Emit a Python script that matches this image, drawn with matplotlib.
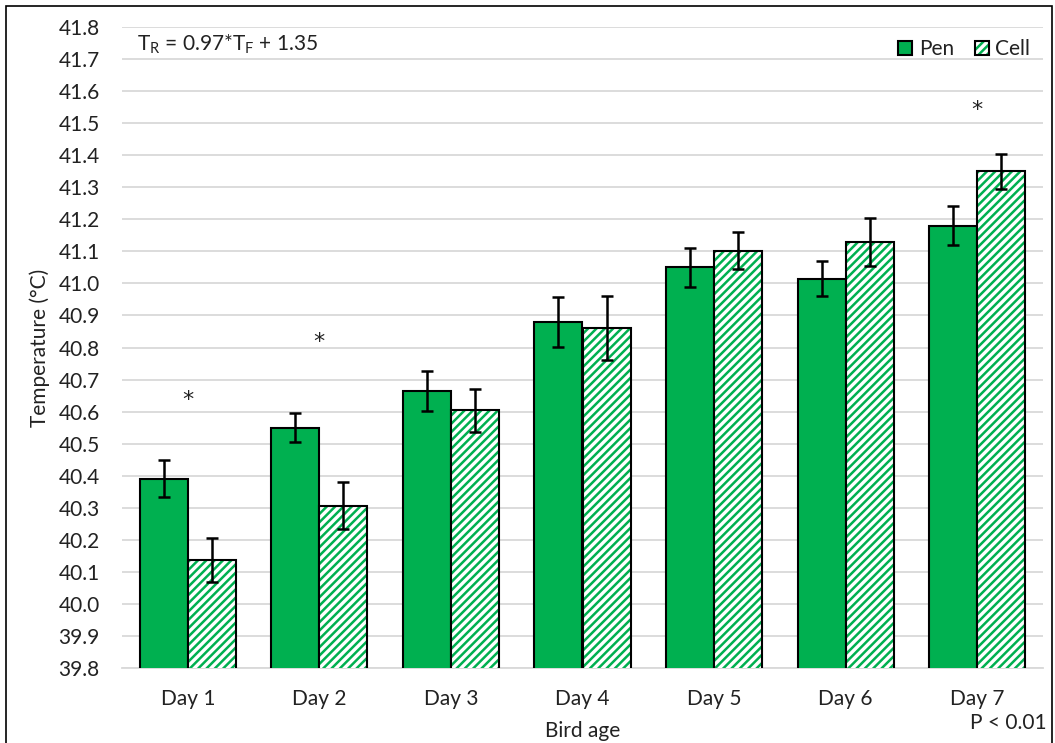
import matplotlib
matplotlib.use("Agg")
import matplotlib.pyplot as plt
from matplotlib.patches import Patch, Rectangle
from matplotlib.legend_handler import HandlerTuple
import numpy as np

categories = ["Day 1", "Day 2", "Day 3", "Day 4", "Day 5", "Day 6", "Day 7"]
pen = [40.39, 40.55, 40.665, 40.88, 41.05, 41.015, 41.18]
pen_err = [0.058, 0.046, 0.063, 0.078, 0.062, 0.054, 0.060]
cell = [40.137, 40.307, 40.604, 40.862, 41.102, 41.13, 41.35]
cell_err = [0.07, 0.073, 0.068, 0.10, 0.057, 0.075, 0.055]
star_days = [0, 1, 6]
star_vals = [40.655, 40.836, 41.56]
yticks = [round(39.8 + 0.1 * i, 1) for i in range(21)]

GREEN = "#00B050"
FONT = "Lato"
FS = 15
plt.rcParams["font.family"] = [FONT, "DejaVu Sans"]
plt.rcParams["hatch.linewidth"] = 1.8
plt.rcParams["mathtext.fontset"] = "custom"
plt.rcParams["mathtext.rm"] = FONT

fig = plt.figure(figsize=(10.55, 7.43), dpi=100)
ax = fig.add_axes([122 / 1055, 1 - 668 / 743, 921 / 1055, 641 / 743])

x = np.arange(len(categories))
w = 0.365
ax.bar(x - w / 2, pen, w, color=GREEN, edgecolor="black", linewidth=1.5, zorder=3)
ax.bar(x + w / 2, cell, w, color="white", edgecolor=GREEN, hatch="////", linewidth=0, zorder=3)
ax.bar(x + w / 2, cell, w, fill=False, edgecolor="black", linewidth=1.5, zorder=4)
ax.errorbar(x - w / 2, pen, yerr=pen_err, fmt="none", ecolor="black", elinewidth=1.8,
            capsize=4, capthick=1.8, zorder=5)
ax.errorbar(x + w / 2, cell, yerr=cell_err, fmt="none", ecolor="black", elinewidth=1.8,
            capsize=4, capthick=1.8, zorder=5)
for d, v in zip(star_days, star_vals):
    ax.annotate("*", (x[d], v), xytext=(0, -9), textcoords="offset points",
                ha="center", va="baseline", fontsize=16, family="DejaVu Sans",
                color="#222222", zorder=6)

ax.set_ylim(39.8, 41.8)
ax.set_xlim(-0.5, len(categories) - 0.5)
ax.set_yticks(yticks)
ax.set_yticklabels([f"{t:.1f}" for t in yticks])
ax.set_xticks(x)
ax.set_xticklabels(categories)
ax.tick_params(axis="both", length=0, labelsize=FS, colors="#222222")
ax.tick_params(axis="y", pad=16)
ax.tick_params(axis="x", pad=15)
ax.grid(axis="y", color="#D9D9D9", linewidth=1.3, zorder=0)
ax.set_axisbelow(True)
for s in ["left", "right", "top"]:
    ax.spines[s].set_visible(False)
ax.spines["bottom"].set_color("#D9D9D9")
ax.spines["bottom"].set_linewidth(1.3)

ax.set_ylabel("Temperature (°C)", fontsize=FS, labelpad=6, color="#222222")
ax.set_xlabel("Bird age", fontsize=FS, labelpad=9, color="#222222")

ax.text(0.016, 0.973, r"T$_\mathregular{R}$ = 0.97*T$_\mathregular{F}$ + 1.35",
        transform=ax.transAxes, ha="left", va="center", fontsize=FS, color="#222222")
fig.text(1047 / 1055, 1 - 723 / 743, "P < 0.01", ha="right", va="center", fontsize=FS,
         color="#222222")

h_pen = Patch(facecolor=GREEN, edgecolor="black", linewidth=1.5)
h_cell_fill = Patch(facecolor="white", edgecolor=GREEN, hatch="////", linewidth=0)
h_cell_edge = Patch(fill=False, edgecolor="black", linewidth=1.5)
ax.legend([h_pen, (h_cell_fill, h_cell_edge)], ["Pen", "Cell"],
          handler_map={tuple: HandlerTuple(ndivide=1)},
          loc="upper right", bbox_to_anchor=(1.0, 1.0), ncol=2, frameon=False,
          fontsize=FS, handlelength=0.7, handleheight=0.7, handletextpad=0.3,
          columnspacing=1.0, borderaxespad=0.2, labelcolor="#222222")

fig.add_artist(Rectangle((6 / 1055, -0.01), 1046 / 1055, 1 - 6 / 743 + 0.01,
                         transform=fig.transFigure, fill=False, edgecolor="black",
                         linewidth=1.2))

fig.savefig("out.png", dpi=100)
